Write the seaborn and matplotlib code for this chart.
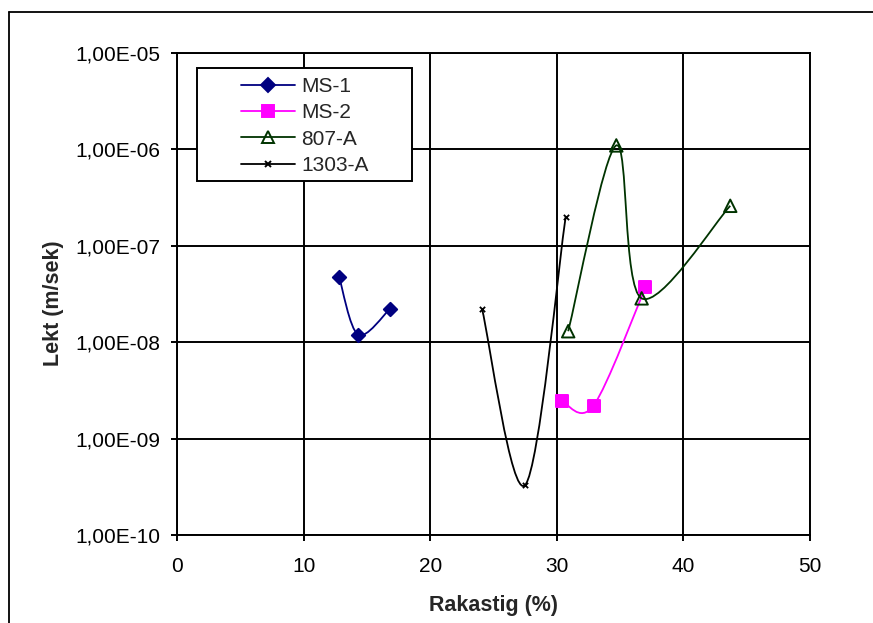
import numpy as np
import pandas as pd
import matplotlib
matplotlib.use("Agg")
import matplotlib.pyplot as plt
from matplotlib.path import Path
from matplotlib.patches import PathPatch, Rectangle
from matplotlib.lines import Line2D
from matplotlib.ticker import NullLocator
import seaborn as sns

# values
ms1_x = [12.8, 14.3, 16.8]
ms1_y = [4.8e-8, 1.2e-8, 2.2e-8]

ms2_x = [30.4, 32.9, 37.0]
ms2_y = [2.45e-9, 2.2e-9, 3.7e-8]

a807_x = [30.9, 34.7, 36.7, 43.7]
a807_y = [1.3e-8, 1.1e-6, 2.85e-8, 2.6e-7]

a1303_x = [24.1, 27.5, 30.7]
a1303_y = [2.2e-8, 3.3e-10, 2.0e-7]

series_names = ["MS-1", "MS-2", "807-A", "1303-A"]

x_ticks = [0, 10, 20, 30, 40, 50]
y_ticks = [1e-10, 1e-9, 1e-8, 1e-7, 1e-6, 1e-5]
y_tick_labels = ["1,00E-10", "1,00E-09", "1,00E-08", "1,00E-07", "1,00E-06", "1,00E-05"]

sns.set_theme(style="white")
plt.rcParams["font.family"] = ["Liberation Sans", "DejaVu Sans"]

W, H = 873, 623
fig = plt.figure(figsize=(W / 100, H / 100), dpi=100)
ax = fig.add_axes([177 / W, 1 - 535 / H, 633 / W, 482 / H])


def smooth_path(xs, ys):
    # Excel style smoothed line: bezier segments, control points from the
    # neighbouring points, worked out in (x, log10 y)
    p = np.column_stack([xs, np.log10(ys)])
    n = len(p)
    verts = [p[0]]
    codes = [Path.MOVETO]
    for i in range(n - 1):
        prev = p[max(i - 1, 0)]
        nxt = p[min(i + 2, n - 1)]
        c1 = p[i] + (p[i + 1] - prev) / 6
        c2 = p[i + 1] - (nxt - p[i]) / 6
        verts += [c1, c2, p[i + 1]]
        codes += [Path.CURVE4] * 3
    verts = np.array(verts)
    verts[:, 1] = 10 ** verts[:, 1]
    return Path(verts, codes)


styles = {
    "MS-1": dict(x=ms1_x, y=ms1_y, color="#000080", marker="D", ms=6.8, face="#000080"),
    "MS-2": dict(x=ms2_x, y=ms2_y, color="#FF00FF", marker="s", ms=8.4, face="#FF00FF"),
    "807-A": dict(x=a807_x, y=a807_y, color="#003300", marker="^", ms=9, face="none"),
    "1303-A": dict(x=a1303_x, y=a1303_y, color="#000000", marker="x", ms=3.8, face="#000000"),
}

handles = []
for name in series_names:
    st = styles[name]
    df = pd.DataFrame({"x": st["x"], "y": st["y"]})
    ax.add_patch(PathPatch(smooth_path(st["x"], st["y"]), fill=False,
                           edgecolor=st["color"], lw=1.3, zorder=2))
    if st["marker"] == "x":
        sns.scatterplot(data=df, x="x", y="y", marker="x", s=st["ms"] ** 2,
                        color=st["color"], linewidth=1.3, ax=ax, zorder=3)
    else:
        sns.scatterplot(data=df, x="x", y="y", marker=st["marker"], s=st["ms"] ** 2,
                        facecolor=st["face"], edgecolor=st["color"], linewidth=1.4,
                        ax=ax, zorder=3)
    handles.append(Line2D([], [], color=st["color"], lw=1.3, marker=st["marker"],
                          markersize=st["ms"], markerfacecolor=st["face"],
                          markeredgecolor=st["color"], markeredgewidth=1.4))

ax.set_yscale("log")
ax.set_xlim(0, 50)
ax.set_ylim(1e-10, 1e-5)
ax.set_xticks(x_ticks)
ax.set_xticklabels([str(t) for t in x_ticks])
ax.set_yticks(y_ticks)
ax.set_yticklabels(y_tick_labels)
ax.yaxis.set_minor_locator(NullLocator())

ax.grid(True, color="black", lw=1.4)
ax.set_axisbelow(True)
for sp in ax.spines.values():
    sp.set_color("black")
    sp.set_linewidth(1.4)
ax.tick_params(axis="both", which="major", direction="out", length=4, width=1.4,
               color="black", labelsize=15, labelcolor="black",
               bottom=True, left=True)
ax.tick_params(axis="x", pad=12)
ax.tick_params(axis="y", pad=8)

ax.set_xlabel("Rakastig (%)", fontsize=15.5, fontweight="bold", va="center")
ax.set_ylabel("Lekt (m/sek)", fontsize=15.5, fontweight="bold", va="center")
ax.xaxis.set_label_coords(0.5, (535 - 606) / 482)
ax.yaxis.set_label_coords((53 - 177) / 633, 0.48)

# legend box (Excel style, wide side padding)
ax.add_patch(Rectangle(((197 - 177) / 633, (535 - 181) / 482), 215 / 633, 113 / 482,
                       transform=ax.transAxes, facecolor="white", edgecolor="black",
                       lw=1.4, zorder=4))
leg = ax.legend(handles, series_names, loc="upper left",
                bbox_to_anchor=((241 - 177) / 633, (535 - 77) / 482),
                frameon=False, fontsize=15, handlelength=2.59, handletextpad=0.29,
                labelspacing=0.35, borderpad=0, borderaxespad=0)
leg.set_zorder(5)

# outer chart frame
fig.add_artist(Line2D([9 / W, 9 / W], [0, 1 - 12 / H], transform=fig.transFigure,
                      color="black", lw=1.3))
fig.add_artist(Line2D([9 / W, 1], [1 - 12 / H, 1 - 12 / H], transform=fig.transFigure,
                      color="black", lw=1.3))

fig.savefig("out.png", dpi=100)
